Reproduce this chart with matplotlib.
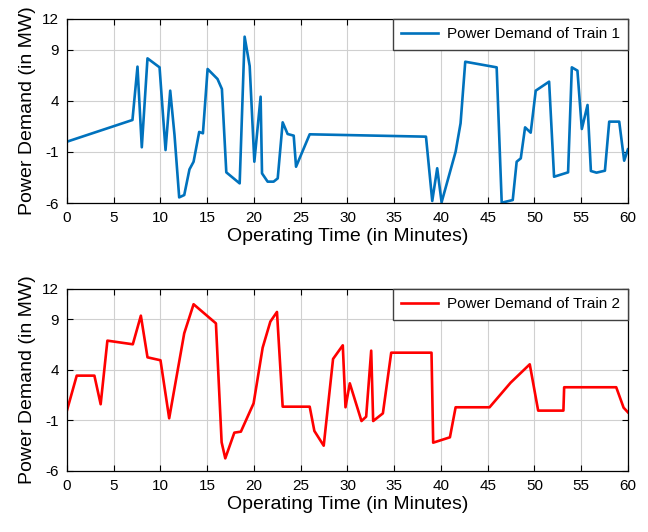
import matplotlib
matplotlib.use("Agg")
import matplotlib.pyplot as plt

plt.rcParams['font.family'] = ['Liberation Sans', 'DejaVu Sans']

# Train 1 power demand (time in minutes, power in MW)
t1 = [0, 7.0, 7.54, 8.0, 8.61, 9.9, 10.54, 11.04, 11.5, 12.0, 12.54, 13.1, 13.54, 14.14,
      14.54, 15.04, 16.1, 16.57, 17.04, 18.47, 19.0, 19.54, 20.04, 20.71, 20.86, 21.46,
      22.1, 22.54, 23.07, 23.6, 24.25, 24.5, 25.96, 38.4, 39.07, 39.6, 40.07, 41.57,
      42.1, 42.6, 45.96, 46.5, 47.68, 48.1, 48.54, 49.0, 49.6, 50.14, 51.57, 52.1, 53.6,
      54.0, 54.6, 55.07, 55.68, 56.04, 56.64, 57.54, 58.0, 59.07, 59.6, 60.0]
p1 = [0.0, 2.12, 7.34, -0.55, 8.15, 7.27, -0.82, 4.99, 0.65, -5.45, -5.22, -2.71, -1.96, 0.95,
      0.82, 7.11, 6.13, 5.15, -3.0, -4.08, 10.27, 7.4, -1.96, 4.4, -3.1, -3.91,
      -3.91, -3.59, 1.89, 0.75, 0.59, -2.45, 0.72, 0.49, -5.8, -2.6, -5.93, -0.98,
      1.8, 7.82, 7.27, -5.97, -5.71, -1.96, -1.63, 1.40, 0.88, 4.99, 5.87, -3.43, -3.0,
      7.27, 6.95, 1.24, 3.59, -2.87, -3.03, -2.84, 1.96, 1.96, -1.86, -0.75]

# Train 2 power demand
t2 = [0, 1.04, 2.93, 3.6, 4.32, 7.04, 7.9, 8.61, 10.0, 10.93, 12.54, 13.54, 15.93, 16.54,
      16.93, 17.9, 18.6, 19.96, 20.93, 21.75, 22.46, 23.07, 25.96, 26.46, 27.46, 28.46,
      29.5, 29.79, 30.25, 31.5, 32.0, 32.54, 32.75, 33.79, 34.68, 38.99, 39.17, 40.96,
      41.57, 45.2, 47.45, 49.5, 50.4, 53.1, 53.18, 58.75, 59.54, 60.0]
p2 = [0.0, 3.43, 3.43, 0.6, 6.89, 6.53, 9.36, 5.24, 4.95, -0.79, 7.62, 10.49, 8.6, -3.16,
      -4.75, -2.21, -2.11, 0.69, 6.2, 8.77, 9.73, 0.36, 0.36, -2.04, -3.5, 5.08,
      6.43, 0.3, 2.67, -1.06, -0.63, 5.9, -1.06, -0.3, 5.7, 5.7, -3.2, -2.67,
      0.3, 0.3, 2.73, 4.55, -0.03, -0.03, 2.28, 2.28, 0.26, -0.2]

xticks = [0, 5, 10, 15, 20, 25, 30, 35, 40, 45, 50, 55, 60]
yticks = [-6, -1, 4, 9, 12]
xlabel = 'Operating Time (in Minutes)'
ylabel = 'Power Demand (in MW)'
labels = ['Power Demand of Train 1', 'Power Demand of Train 2']
colors = ['#0072BD', '#FF0000']

fig = plt.figure(figsize=(6.48, 5.32), dpi=100)
ax1 = fig.add_axes([0.1034, 0.6184, 0.8656, 0.3459])
ax2 = fig.add_axes([0.1034, 0.1147, 0.8656, 0.3421])

for ax, t, p, lab, c in [(ax1, t1, p1, labels[0], colors[0]), (ax2, t2, p2, labels[1], colors[1])]:
    ax.plot(t, p, color=c, linewidth=1.9, label=lab)
    ax.set_xlim(0, 60)
    ax.set_ylim(-6, 12)
    ax.set_xticks(xticks)
    ax.set_yticks(yticks)
    ax.set_yticklabels([str(v) for v in yticks])
    ax.grid(True, color='#d0d0d0', linewidth=0.8)
    ax.set_axisbelow(True)
    ax.tick_params(direction='in', top=True, right=True, labelsize=11, length=4, width=0.8, pad=6)
    for s in ax.spines.values():
        s.set_linewidth(0.9)
        s.set_color('black')
    ax.set_xlabel(xlabel, fontsize=14, labelpad=2)
    ax.set_ylabel(ylabel, fontsize=14, labelpad=4)
    leg = ax.legend(loc='upper right', fontsize=11, borderaxespad=0, handlelength=2.4,
                    handletextpad=0.55, fancybox=False, framealpha=1, edgecolor='#404040',
                    borderpad=0.55)
    leg.get_frame().set_linewidth(1.0)

fig.savefig('out.png', dpi=100)
